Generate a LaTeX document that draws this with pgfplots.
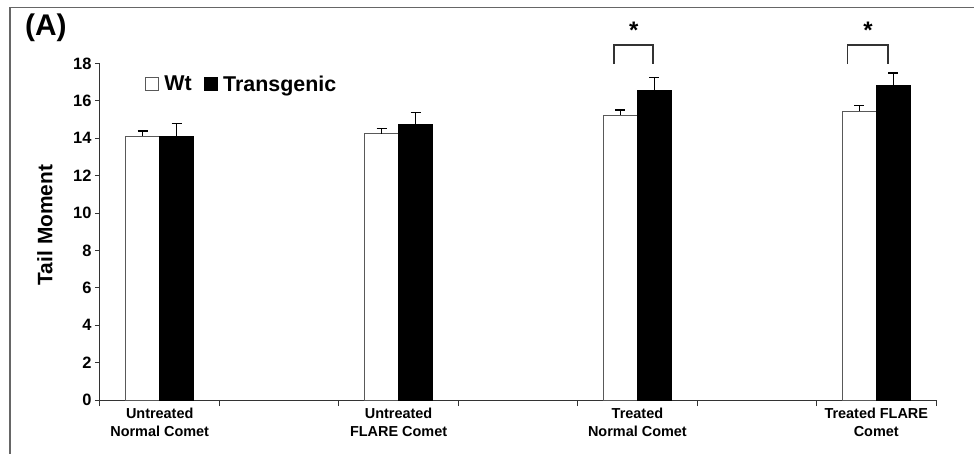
\documentclass[border=0pt]{standalone}
\usepackage{fontspec}
\setmainfont{Liberation Sans}
\usepackage{pgfplots}
\pgfplotsset{compat=1.18}
\begin{document}
\begin{tikzpicture}
\begin{axis}[
  name=ax,
  scale only axis,
  width=836bp, height=336.5bp,
  xmin=-0.5, xmax=6.5, ymin=0, ymax=18,
  axis lines*=left,
  axis line style={-, line width=1bp, black!80},
  clip=false,
  ytick={0,2,...,18},
  xtick={0,2,4,6},
  xticklabels={{Untreated\\Normal Comet},{Untreated\\FLARE Comet},{Treated\\Normal Comet},{Treated FLARE\\Comet}},
  minor xtick={-0.5,0.5,...,6.5},
  major x tick style={draw=none},
  minor x tick style={black!80, line width=1bp},
  y tick style={black!80, line width=1bp},
  tick align=outside,
  major tick length=5bp,
  minor tick length=6bp,
  /pgf/number format/assume math mode=true,
  yticklabel style={font=\bfseries\fontsize{16.5}{19}\selectfont},
  xticklabel style={align=center, font=\bfseries\fontsize{14.5}{18}\selectfont},
  ylabel={Tail Moment},
  ylabel style={at={(axis description cs:-0.0658,0.52)}, anchor=center, font=\bfseries\fontsize{21}{24}\selectfont},
  legend style={at={(0.05,0.939)}, anchor=west, draw=none, fill=none,
    legend columns=2, font=\bfseries\fontsize{21.5}{24}\selectfont,
    /tikz/every even column/.append style={column sep=10bp},
    nodes={inner sep=2bp}},
  legend image code/.code={\path[draw=none, fill=none] (0bp,0bp) -- (17bp,0bp); \draw[#1, line width=0.9bp] (0bp,-6.5bp) rectangle (13bp,6.5bp);},
]
\addplot[ybar, bar width=0.285, bar shift=-0.1425, fill=white, draw=black!65, line width=1bp]
  coordinates {(0,14.10) (2,14.24) (4,15.24) (6,15.45)};
\addlegendentry{Wt}
\addplot[ybar, bar width=0.285, bar shift=0.1425, fill=black, draw=black, line width=1bp]
  coordinates {(0,14.10) (2,14.74) (4,16.58) (6,16.81)};
\addlegendentry{Transgenic}
% error bars (Wt)
\addplot[forget plot, draw=none, mark=none,
  error bars/.cd, y dir=plus, y explicit, error mark=-,
  error bar style={line width=1.5bp, black},
  error mark options={line width=1.5bp, mark size=5bp, black, rotate=90}]
  coordinates {(-0.1425,14.10) +- (0,0.28) (1.8575,14.24) +- (0,0.29) (3.8575,15.24) +- (0,0.27) (5.8575,15.45) +- (0,0.29)};
% error bars (Transgenic)
\addplot[forget plot, draw=none, mark=none,
  error bars/.cd, y dir=plus, y explicit, error mark=-,
  error bar style={line width=1.5bp, black},
  error mark options={line width=1.5bp, mark size=5bp, black, rotate=90}]
  coordinates {(0.1425,14.10) +- (0,0.68) (2.1425,14.74) +- (0,0.65) (4.1425,16.58) +- (0,0.66) (6.1425,16.81) +- (0,0.69)};
\draw[line width=1.5bp, black!80] (axis cs:3.804,17.97) |- (axis cs:4.13,18.98) -- (axis cs:4.13,17.97);
\draw[line width=1.5bp, black!80] (axis cs:5.76,17.97) |- (axis cs:6.10,18.98) -- (axis cs:6.10,17.97);
\node[font=\bfseries\fontsize{24}{24}\selectfont] at (axis cs:3.97,19.8) {*};
\node[font=\bfseries\fontsize{24}{24}\selectfont] at (axis cs:5.93,19.8) {*};
\end{axis}
\draw[black!60, line width=1.5bp] ([xshift=-90bp,yshift=-60bp]ax.south west) |- ([xshift=880bp,yshift=392.5bp]ax.south west);
\node[anchor=west, inner sep=0pt, font=\bfseries\fontsize{30}{30}\selectfont] at ([xshift=-75bp,yshift=372.5bp]ax.south west) {(A)};
\pgfresetboundingbox
\path[use as bounding box] ([xshift=-100bp,yshift=-54bp]ax.south west) rectangle ++(974bp,454bp);
\end{tikzpicture}
\end{document}
